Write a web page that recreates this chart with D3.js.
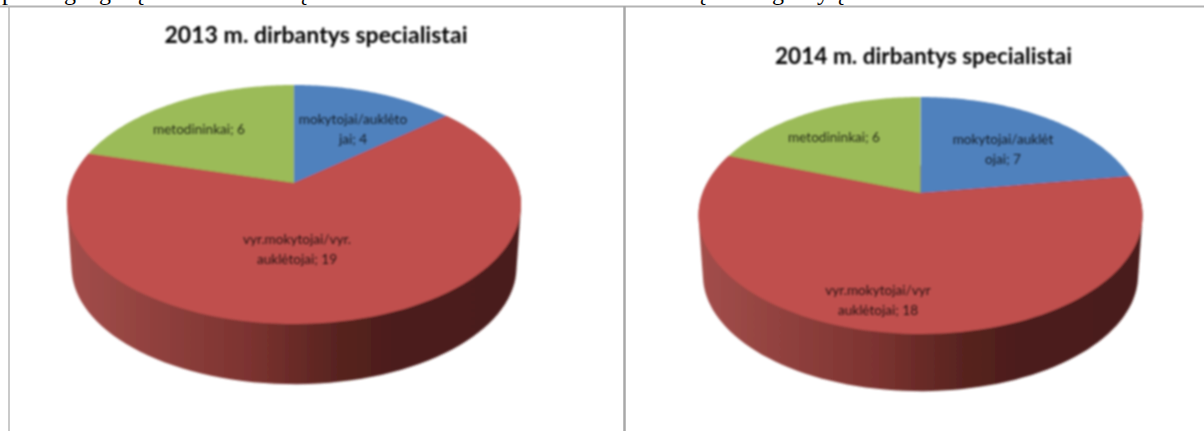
<!DOCTYPE html>
<html>
<head>
<meta charset="utf-8">
<script src="https://cdn.jsdelivr.net/npm/d3@7"></script>
<style>
  html, body { margin: 0; padding: 0; background: #fff; overflow: hidden; }
  svg { display: block; }
</style>
</head>
<body>
<svg id="main-svg" width="1204" height="431"></svg>
<script>
// chart data
var categories = ["mokytojai/auklėtojai", "vyr.mokytojai/vyr. auklėtojai", "metodininkai"];
var values2013 = [4, 19, 6];
var values2014 = [7, 18, 6];
var title2013 = "2013 m. dirbantys specialistai";
var title2014 = "2014 m. dirbantys specialistai";
var labels2013 = [["mokytojai/auklėto", "jai; 4"], ["vyr.mokytojai/vyr.", "auklėtojai; 19"], ["metodininkai; 6"]];
var labels2014 = [["mokytojai/auklėt", "ojai; 7"], ["vyr.mokytojai/vyr", "auklėtojai; 18"], ["metodininkai; 6"]];
var cutOffLetters = ["p", "g", "g", "ę", "ę", "ę", "g", "y", "ę"];

// layout
var colors = ["#4f81bd", "#c0504d", "#9bbb59"];
var cutOffX = [2, 64, 99, 134, 297, 696, 772, 817, 834];
var layout2013 = {
    cx: 294, cy: 183, back: 98, front: 141, halfWidth: 227, wall: 63,
    titleX: 316, titleY: 43, titleWidth: 303,
    labelX: [353, 297, 199], labelY: [124, 244, 134]
};
var layout2014 = {
    cx: 920.5, cy: 193, back: 96, front: 141, halfWidth: 222, wall: 60,
    titleX: 923.5, titleY: 64, titleWidth: 297,
    labelX: [1003, 878, 834], labelY: [144, 295, 142]
};

var svg = d3.select("#main-svg");
var defs = svg.append("defs");

function addBlur(id, amount) {
    defs.append("filter")
        .attr("id", id)
        .attr("filterUnits", "userSpaceOnUse")
        .attr("x", 0).attr("y", 0).attr("width", 1204).attr("height", 431)
        .append("feGaussianBlur")
        .attr("stdDeviation", amount);
}
addBlur("blur-pie", 0.9);
addBlur("blur-title", 0.85);
addBlur("blur-label", 1.0);
addBlur("blur-rule", 0.5);

var wallGradient = defs.append("linearGradient").attr("id", "wall-gradient");
[[0, "#a34e4b"], [0.4, "#7c3330"], [0.6, "#57231f"], [0.72, "#4c1d1a"], [1, "#4a1c1a"]].forEach(function(s) {
    wallGradient.append("stop").attr("offset", s[0]).attr("stop-color", s[1]);
});

// frame left over from the page the chart was pasted into
var rules = svg.append("g").attr("filter", "url(#blur-rule)");
rules.append("line").attr("x1", 0).attr("x2", 1204).attr("y1", 6.5).attr("y2", 6.5)
    .attr("stroke", "#b4b4b4").attr("stroke-width", 2);
rules.append("line").attr("x1", 9).attr("x2", 9).attr("y1", 6).attr("y2", 431)
    .attr("stroke", "#b8b8b8").attr("stroke-width", 1.5);
rules.append("line").attr("x1", 624.5).attr("x2", 624.5).attr("y1", 6).attr("y2", 431)
    .attr("stroke", "#a8a8a8").attr("stroke-width", 2.5);

// bottom of the line of text above the charts, only descenders show
svg.append("g").selectAll("text")
    .data(cutOffLetters)
    .join("text")
    .attr("x", function(d, i) { return cutOffX[i]; })
    .attr("y", 0)
    .style("font-family", "'Liberation Serif', serif")
    .style("font-size", "24px")
    .attr("fill", "#000")
    .text(function(d) { return d; });

function drawPie(values, labels, title, L) {
    var g = svg.append("g");
    var pieces = g.append("g").attr("filter", "url(#blur-pie)");

    // perspective disc: the slice centre sits above the middle of the ellipse
    var k = (L.front - L.back) / (L.front + L.back);
    var depth = L.back * (1 + k);
    var spread = L.halfWidth * Math.sqrt(1 - k * k);

    function rim(angle, scale, drop) {
        var u = Math.sin(angle), v = Math.cos(angle), w = 1 + k * v;
        return [L.cx + spread * scale * u / w, L.cy + drop - depth * scale * v / w];
    }
    function sweep(d) {
        return d3.range(0, 101).map(function(i) {
            return d.startAngle + (d.endAngle - d.startAngle) * i / 100;
        });
    }

    var arcs = d3.pie().sort(null)(values);
    var line = d3.line();

    // outer wall of the big slice, hull of its upper and lower rim
    var big = arcs[1];
    var upper = sweep(big).map(function(a) { return rim(a, 1, 0); });
    var lower = sweep(big).map(function(a) { return rim(a, 0.98, L.wall); });
    pieces.append("path")
        .attr("d", line(d3.polygonHull(upper.concat(lower))) + "Z")
        .attr("fill", "url(#wall-gradient)");

    pieces.selectAll("path.slice")
        .data(arcs)
        .join("path")
        .attr("class", "slice")
        .attr("d", function(d) {
            return line([[L.cx, L.cy]].concat(sweep(d).map(function(a) { return rim(a, 1, 0); }))) + "Z";
        })
        .attr("fill", function(d, i) { return colors[i]; });

    g.append("text")
        .attr("filter", "url(#blur-title)")
        .attr("x", L.titleX)
        .attr("y", L.titleY)
        .attr("text-anchor", "middle")
        .attr("textLength", L.titleWidth)
        .attr("lengthAdjust", "spacingAndGlyphs")
        .style("font-family", "Lato, sans-serif")
        .style("font-weight", "700")
        .style("font-size", "22px")
        .attr("fill", "#000")
        .text(title);

    var texts = g.append("g").attr("filter", "url(#blur-label)");
    labels.forEach(function(lines, i) {
        lines.forEach(function(t, j) {
            texts.append("text")
                .attr("x", L.labelX[i])
                .attr("y", L.labelY[i] + j * 20)
                .attr("text-anchor", "middle")
                .style("font-family", "Lato, sans-serif")
                .style("font-size", "13.6px")
                .attr("fill", "#000")
                .attr("fill-opacity", 0.8)
                .text(t);
        });
    });
}

drawPie(values2013, labels2013, title2013, layout2013);
drawPie(values2014, labels2014, title2014, layout2014);
</script>
</body>
</html>
